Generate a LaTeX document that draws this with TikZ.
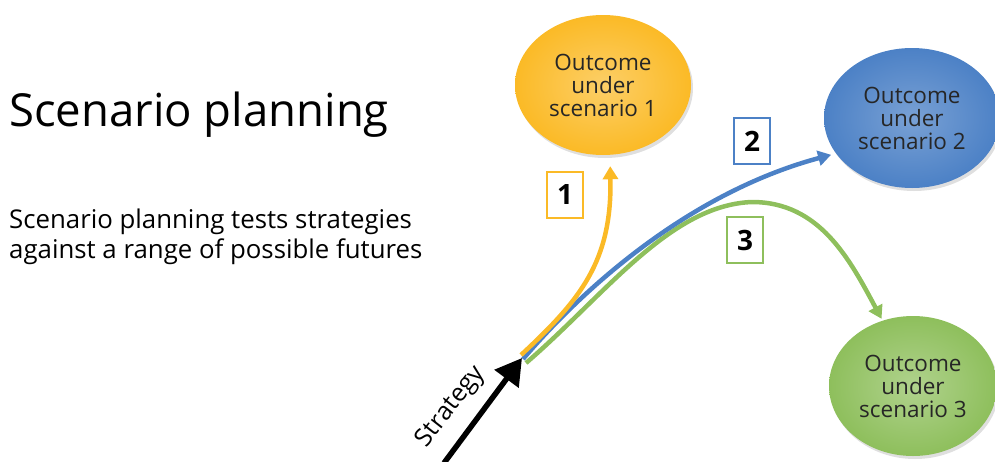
\documentclass[tikz,border=0pt]{standalone}
\usepackage{fontspec}
\setmainfont{Open Sans}
\usetikzlibrary{arrows.meta,shapes.geometric,shadows}

\definecolor{scyellow}{RGB}{251,186,38}
\definecolor{scblue}{RGB}{76,129,198}
\definecolor{scgreen}{RGB}{142,191,92}

\begin{document}
\begin{tikzpicture}[x=1pt, y=-1pt,
   outcome/.style={ellipse, minimum width=176pt, minimum height=140pt, inner sep=0pt,
      align=center, text=black!85, font=\fontsize{22.5}{23}\selectfont,
      drop shadow={opacity=0.25, shadow xshift=2pt, shadow yshift=-3pt}},
   numbox/.style={draw, line width=1.4pt, fill=white, minimum width=36pt, minimum height=46pt,
      inner sep=0pt, font=\bfseries\fontsize{28}{28}\selectfont},
   scpath/.style={line width=4.5pt, -{Triangle[length=13pt, width=15pt]}}]

   \useasboundingbox (0,0) rectangle (995,461);

   % heading
   \node [anchor=base west, inner sep=0pt, font=\fontsize{45.5}{45.5}\selectfont] (title) at (9,126) {Scenario planning};
   \node [anchor=base west, inner sep=0pt, align=left, font=\fontsize{25.8}{30}\selectfont] (intro) at (9,258)
      {Scenario planning tests strategies\\against a range of possible futures};

   % outcomes
   \node [outcome, shading=radial, inner color=scyellow!70!white, outer color=scyellow] (out1) at (603,85)
      {Outcome\\under\\scenario 1};
   \node [outcome, shading=radial, inner color=scblue!75!white, outer color=scblue] (out2) at (912,118)
      {Outcome\\under\\scenario 2};
   \node [outcome, minimum width=168pt, shading=radial, inner color=scgreen!70!white, outer color=scgreen] (out3) at (913,386)
      {Outcome\\under\\scenario 3};

   % strategy
   \coordinate (org) at (522,358);
   \coordinate (sbase) at (444,463);
   \draw [line width=5.5pt, -{Triangle[length=26pt, width=29pt]}] (sbase) -- (org);
   \node [rotate=52, font=\fontsize{25}{25}\selectfont] (strat) at (451,407) {Strategy};

   % scenario paths
   \draw [scpath, color=scgreen, shorten >=2pt]
      ([xshift=4pt, yshift=-5pt]org) .. controls (605,295) and (670,205) .. (752,202)
      .. controls (820,202) and (850,260) .. (out3.115);
   \draw [scpath, color=scblue, shorten >=5pt]
      ([xshift=1pt, yshift=-1pt]org) .. controls (595,275) and (700,190) .. (out2.205);
   \draw [scpath, color=scyellow, shorten >=11pt]
      ([xshift=-1pt, yshift=3pt]org) .. controls (580,300) and (612,262) .. ([xshift=7pt]out1.south);

   % scenario numbers
   \node [numbox, draw=scyellow] (n1) at (565,195) {1};
   \node [numbox, draw=scblue] (n2) at (752,141) {2};
   \node [numbox, draw=scgreen] (n3) at (745,240) {3};
\end{tikzpicture}
\end{document}
